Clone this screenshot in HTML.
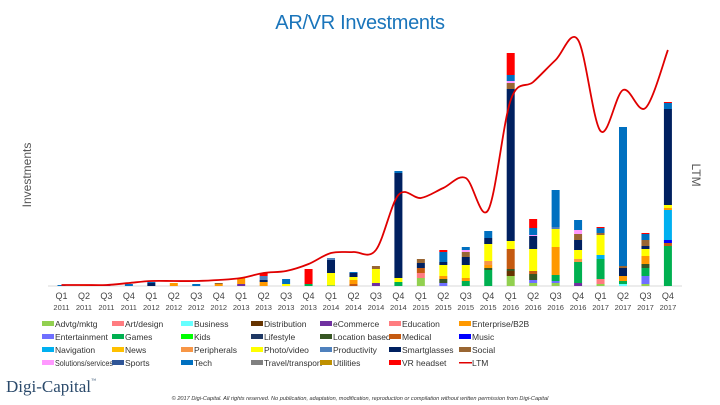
<!DOCTYPE html>
<html><head><meta charset="utf-8"><style>
body{margin:0;background:#fff;width:720px;height:405px;overflow:hidden;font-family:"Liberation Sans",sans-serif}
svg{display:block}
</style></head><body>
<svg id="chart" width="720" height="405" viewBox="0 0 720 405">
<text x="360" y="29" text-anchor="middle" font-size="20" fill="#1a75bb" font-family="Liberation Sans, sans-serif" style="letter-spacing:-0.3px">AR/VR Investments</text>
<text transform="translate(31,175) rotate(-90)" text-anchor="middle" font-size="12" fill="#555">Investments</text>
<text transform="translate(692,175) rotate(90)" text-anchor="middle" font-size="12" fill="#555">LTM</text>
<line x1="48" y1="286" x2="682" y2="286" stroke="#d9d9d9" stroke-width="1"/>
<g id="bars"></g>
<g id="xlabels"></g>
<g id="line"></g>
<g id="legend"></g>
<text x="6" y="392" font-family="Liberation Serif, serif" font-size="17" fill="#2b4a6b">Digi-Capital<tspan font-size="5" dy="-10">™</tspan></text>
<text x="360" y="400" text-anchor="middle" font-size="5.6" font-style="italic" fill="#333">© 2017 Digi-Capital. All rights reserved. No publication, adaptation, modification, reproduction or compilation without written permission from Digi-Capital</text>
</svg>
<script>
const quarters=["Q1","Q2","Q3","Q4","Q1","Q2","Q3","Q4","Q1","Q2","Q3","Q4","Q1","Q2","Q3","Q4","Q1","Q2","Q3","Q4","Q1","Q2","Q3","Q4","Q1","Q2","Q3","Q4"];
const years=["2011","2011","2011","2011","2012","2012","2012","2012","2013","2013","2013","2013","2014","2014","2014","2014","2015","2015","2015","2015","2016","2016","2016","2016","2017","2017","2017","2017"];
const sAdvtg       =[0,0,0,0,0,0,0,0,0,0,0,0,1,0,0,0,8,0,0,0,10,3,3,0,2,0,2,0];
const sArtdesign   =[0,0,0,0,0,0,0,0,0,0,0,0,0,0,0,0,5,0,0,0,0,0,0,0,5,0,0,0];
const sBusiness    =[0,0,0,0,0,0,0,0,0,0,0,0,0,0,0,0,0,0,0,0,0,0,0,0,0,2,0,0];
const sDistribution=[0,0,0,0,0,0,0,0,0,0,0,0,0,0,0,0,0,0,0,0,5,0,0,0,0,0,0,0];
const sEcommerce   =[0,0,1,0,0,0,0,0,2,0,0,0,0,0,3,0,0,0,0,0,0,0,0,3,0,0,0,0];
const sEntertainment=[0,0,0,0,0,0,0,0,0,0,0,0,0,0,0,0,0,3,0,0,0,3,2,0,0,0,8,0];
const sGames       =[0,0,0,0,0,0,0,0,0,0,0,2,0,0,0,4,0,0,5,16,0,0,6,21,20,3,8,40];
const sLocation    =[0,0,0,0,0,0,0,0,0,0,0,0,0,0,0,0,0,4,0,2,2,6,0,0,0,0,4,0];
const sMedical     =[0,0,0,0,0,0,0,0,0,0,0,0,0,2,0,0,5,0,0,0,20,3,0,0,0,0,0,3];
const sMusic       =[0,0,0,0,0,0,0,0,0,0,0,0,0,0,0,0,0,0,0,0,0,0,0,0,0,0,0,3];
const sNavigation  =[0,0,0,0,0,0,0,0,0,0,0,0,0,0,0,0,0,0,0,0,0,0,0,0,4,0,0,30];
const sEnterprise  =[0,1,0,0,0,3,0,2,6,4,0,0,0,4,0,0,0,3,3,3,0,0,28,0,0,5,8,2];
const sPeripherals =[0,0,0,0,0,0,0,0,0,0,0,0,0,0,0,0,0,0,0,4,0,0,0,3,0,0,0,0];
const sPhoto       =[0,0,0,0,0,0,0,0,0,0,2,0,12,3,14,4,0,11,13,17,8,22,18,9,20,0,7,3];
const sSmartglasses=[0,0,0,0,3,0,0,0,0,2,0,0,13,4,0,105,5,3,8,6,152,13,0,10,0,8,3,96];
const sSocial      =[0,0,0,0,0,0,0,1,0,0,0,0,0,0,3,0,4,0,5,0,6,0,0,6,2,2,6,0];
const sSolutions   =[0,0,0,0,0,0,0,0,0,0,0,0,0,0,0,0,0,0,2,0,2,1,0,4,0,0,0,0];
const sProductivity=[0,0,0,0,0,0,0,0,0,4,0,0,2,0,0,0,0,0,0,0,0,0,2,0,0,0,0,0];
const sTech        =[1,0,0,2,1,0,2,0,0,0,5,0,0,1,0,2,0,10,3,7,6,7,37,10,5,139,6,6];
const sVrheadset   =[0,0,0,0,0,0,0,0,0,3,0,15,0,0,0,0,0,2,0,0,22,9,0,0,1,0,1,1];
const ltmValues=[0,0,0,2,4,4,4,5,7,12,14,21,32,33,35,90,87,97,107,75,185,203,225,245,154,195,177,235];
const stackOrder=[
 ["advtg",sAdvtg,"#92d050"],["art-design",sArtdesign,"#ff7c80"],["business",sBusiness,"#66ffff"],["distribution",sDistribution,"#663300"],
 ["ecommerce",sEcommerce,"#7030a0"],["entertainment",sEntertainment,"#6f6fff"],["games",sGames,"#00b050"],["location-based",sLocation,"#375623"],
 ["medical",sMedical,"#c55a11"],["music",sMusic,"#0000ff"],["navigation",sNavigation,"#00b0f0"],["enterprise-b2b",sEnterprise,"#ff9900"],
 ["peripherals",sPeripherals,"#f79646"],["photo-video",sPhoto,"#ffff00"],["smartglasses",sSmartglasses,"#002060"],["social",sSocial,"#996633"],
 ["solutions-services",sSolutions,"#ff99ff"],["productivity",sProductivity,"#4f81bd"],["tech",sTech,"#0070c0"],["vr-headset",sVrheadset,"#ff0000"]];
const legendLabels=["Advtg/mktg","Art/design","Business","Distribution","eCommerce","Education","Enterprise/B2B","Entertainment","Games","Kids","Lifestyle","Location based","Medical","Music","Navigation","News","Peripherals","Photo/video","Productivity","Smartglasses","Social","Solutions/services","Sports","Tech","Travel/transport","Utilities","VR headset","LTM"];
const legendColors=["#92d050","#ff7c80","#66ffff","#663300","#7030a0","#ff7c80","#ff9900","#6f6fff","#00b050","#00ff00","#1f3864","#375623","#c55a11","#0000ff","#00b0f0","#ffc000","#f79646","#ffff00","#4f81bd","#002060","#996633","#ff99ff","#2f5597","#0070c0","#808080","#bf9000","#ff0000","#e00000"];

const NS="http://www.w3.org/2000/svg";
const x0=61.5, step=22.46, base=286, barW=8;
function xPos(i){return x0+i*step;}
function yBar(v){return base-v;}
function yLtm(v){return 285-v;}
const barsG=document.getElementById('bars');
quarters.forEach((q,i)=>{
  let acc=0;
  stackOrder.forEach(s=>{
    const v=s[1][i]; if(!v) return;
    const r=document.createElementNS(NS,'rect');
    r.setAttribute('x',xPos(i)-barW/2);
    r.setAttribute('y',yBar(acc+v));
    r.setAttribute('width',barW);
    r.setAttribute('height',yBar(acc)-yBar(acc+v));
    r.setAttribute('fill',s[2]);
    
    
    barsG.appendChild(r);
    acc+=v;
  });
});
const xl=document.getElementById('xlabels');
quarters.forEach((q,i)=>{
  const t=document.createElementNS(NS,'text');
  t.setAttribute('x',xPos(i));t.setAttribute('y',299);
  t.setAttribute('text-anchor','middle');t.setAttribute('font-size','9');t.setAttribute('fill','#444');
  t.textContent=q;
  
  
  xl.appendChild(t);
  const y=document.createElementNS(NS,'text');
  y.setAttribute('x',xPos(i));y.setAttribute('y',310);
  y.setAttribute('text-anchor','middle');y.setAttribute('font-size','7.5');y.setAttribute('fill','#444');
  y.textContent=years[i];
  
  
  xl.appendChild(y);
});
const pts=ltmValues.map((v,i)=>[xPos(i),yLtm(v)]);
let d='M'+pts[0][0]+','+pts[0][1];
for(let i=0;i<pts.length-1;i++){
  const p0=pts[Math.max(0,i-1)],p1=pts[i],p2=pts[i+1],p3=pts[Math.min(pts.length-1,i+2)];
  const c1=[p1[0]+(p2[0]-p0[0])/6,p1[1]+(p2[1]-p0[1])/6];
  const c2=[p2[0]-(p3[0]-p1[0])/6,p2[1]-(p3[1]-p1[1])/6];
  d+=' C'+c1[0].toFixed(1)+','+c1[1].toFixed(1)+' '+c2[0].toFixed(1)+','+c2[1].toFixed(1)+' '+p2[0].toFixed(1)+','+p2[1].toFixed(1);
}
const path=document.createElementNS(NS,'path');
path.setAttribute('d',d);path.setAttribute('fill','none');path.setAttribute('stroke','#e00000');path.setAttribute('stroke-width','1.8');


document.getElementById('line').appendChild(path);
const lg=document.getElementById('legend');
const colX=[42,112,181,251,320,389,459];
const rowY=[324,337,350,363];
legendLabels.forEach((lab,k)=>{
  const c=k%7,r=Math.floor(k/7);
  const g=document.createElementNS(NS,'g');
  
  
  const sw=document.createElementNS(NS,'rect');
  if(lab==="LTM"){sw.setAttribute('x',colX[c]);sw.setAttribute('y',rowY[r]-1);sw.setAttribute('width',13);sw.setAttribute('height',1.5);}
  else{sw.setAttribute('x',colX[c]);sw.setAttribute('y',rowY[r]-3);sw.setAttribute('width',12);sw.setAttribute('height',5);}
  sw.setAttribute('fill',legendColors[k]);
  g.appendChild(sw);
  const t=document.createElementNS(NS,'text');
  t.setAttribute('x',colX[c]+13);t.setAttribute('y',rowY[r]+3);
  t.setAttribute('font-size','8.5');t.setAttribute('fill','#333');
  if(lab.length>14){t.setAttribute('textLength',58);t.setAttribute('lengthAdjust','spacingAndGlyphs');}
  t.textContent=lab;
  g.appendChild(t);
  lg.appendChild(g);
});
</script>
</body></html>
